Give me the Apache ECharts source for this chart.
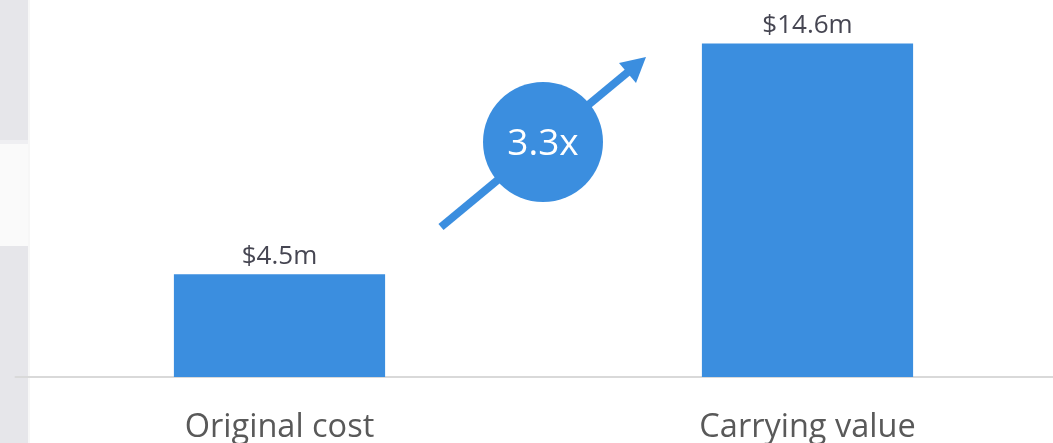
<!DOCTYPE html>
<html>
<head>
<meta charset="utf-8">
<script src="https://cdn.jsdelivr.net/npm/echarts@6/dist/echarts.min.js"></script>
<style>
  html, body { margin: 0; padding: 0; background: #fff; }
  #main { width: 1053px; height: 443px; }
</style>
</head>
<body>
<div id="main"></div>
<script>
var categories = ['Original cost', 'Carrying value']
var values = [4.5, 14.6]
var valueLabels = ['$4.5m', '$14.6m']
var multipleText = '3.3x'

var blue = '#3b8edf'
var myChart = echarts.init(document.getElementById('main'))

var option = {
    backgroundColor: '#ffffff',
    animation: false,
    grid: {
        left: 15.5,
        top: 0,
        right: -18.5,
        bottom: 66,
        outerBoundsMode: 'none'
    },
    xAxis: {
        type: 'category',
        data: categories,
        axisTick: { show: false },
        axisLine: { lineStyle: { color: '#d9d9d9', width: 2 } },
        axisLabel: {
            color: '#595959',
            fontFamily: 'Open Sans',
            fontSize: 32.5,
            margin: 34
        }
    },
    yAxis: {
        type: 'value',
        min: 0,
        max: 16.5,
        show: false,
        splitLine: { show: false }
    },
    series: [
        {
            type: 'bar',
            data: values,
            barWidth: '40%',
            itemStyle: { color: blue },
            label: {
                show: true,
                position: 'top',
                distance: 5,
                color: '#464652',
                fontFamily: 'Open Sans',
                fontSize: 26,
                formatter: function (p) { return valueLabels[p.dataIndex] }
            }
        }
    ],
    graphic: [
        // grey side panels on the left edge
        { type: 'rect', z: -1, shape: { x: 0, y: 0, width: 28, height: 140 }, style: { fill: '#e6e6ea' } },
        { type: 'rect', z: -1, shape: { x: 0, y: 140, width: 28, height: 4 }, style: { fill: '#efeff2' } },
        { type: 'rect', z: -1, shape: { x: 0, y: 144, width: 28, height: 102 }, style: { fill: '#fafafa' } },
        { type: 'rect', z: -1, shape: { x: 0, y: 246, width: 28, height: 197 }, style: { fill: '#e6e6ea' } },
        { type: 'rect', z: -1, shape: { x: 28, y: 0, width: 2, height: 443 }, style: { fill: '#f7f7f7' } },
        // arrow
        { type: 'line', shape: { x1: 441, y1: 227, x2: 628, y2: 72 }, style: { stroke: blue, lineWidth: 8 } },
        { type: 'polygon', shape: { points: [[646, 57], [619, 63], [636, 83]] }, style: { fill: blue } },
        // multiple badge
        { type: 'circle', shape: { cx: 543, cy: 142, r: 60 }, style: { fill: blue } },
        {
            type: 'text', x: 543, y: 144,
            style: {
                text: multipleText, fill: '#ffffff', fontFamily: 'Open Sans', fontSize: 37,
                align: 'center', verticalAlign: 'middle'
            }
        }
    ]
}

myChart.setOption(option)
</script>
</body>
</html>
